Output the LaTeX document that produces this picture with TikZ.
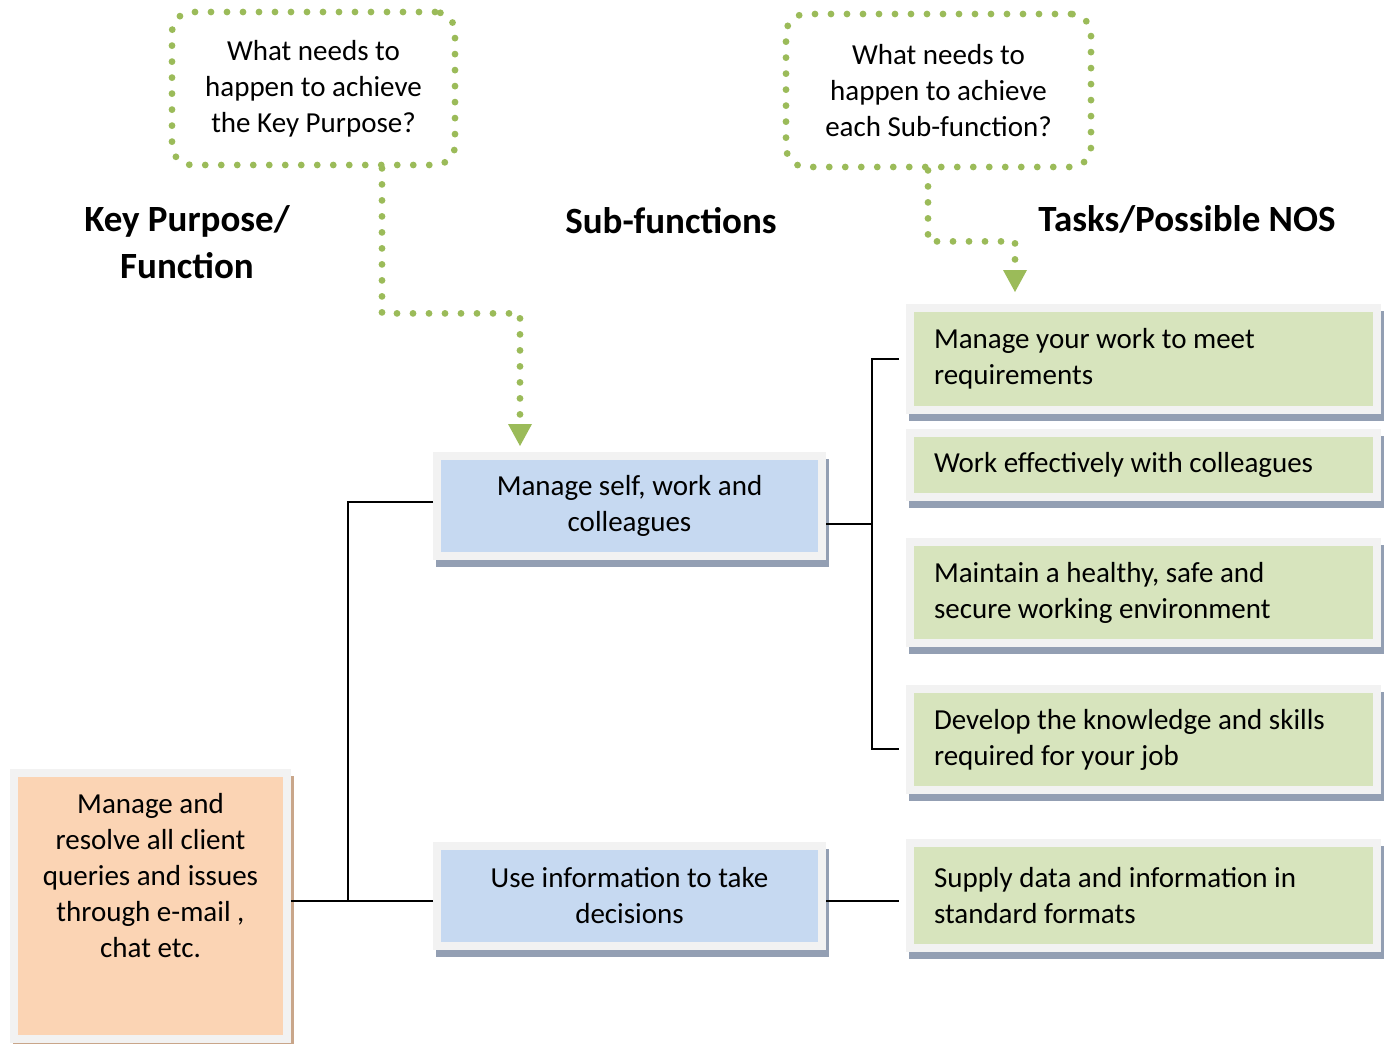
\documentclass[tikz,border=0pt]{standalone}
\usepackage{fontspec}
\setmainfont{Carlito}
\usetikzlibrary{arrows.meta,positioning}

\definecolor{peach}{HTML}{FBD4B4}
\definecolor{skyblue}{HTML}{C6D9F1}
\definecolor{sage}{HTML}{D7E4BD}
\definecolor{boxframe}{HTML}{F2F2F2}
\definecolor{shadeblue}{HTML}{939FB3}
\definecolor{shadetan}{HTML}{C9A68A}
\definecolor{leaf}{HTML}{9BBB59}

\tikzset{
  box/.style={draw=boxframe, line width=4pt, inner sep=0pt, align=center,
    font=\fontsize{14.5}{18}\selectfont,
    preaction={draw=#1, line width=4pt, transform canvas={shift={(1.5pt,-3.5pt)}}}},
  subbox/.style={box=shadeblue, fill=skyblue, minimum width=192.5pt, minimum height=50pt},
  taskbox/.style={box=shadeblue, fill=sage, text width=209.5pt, inner xsep=12pt,
    align=flush left, minimum height=#1},
  callout/.style={draw=leaf, line width=3.4pt, dash pattern=on 0pt off 8pt,
    line cap=round, rounded corners=10pt, align=center,
    font=\fontsize{14.5}{18}\selectfont},
  dotline/.style={draw=leaf, line width=3.4pt, dash pattern=on 0pt off 8pt,
    line cap=round, -{Triangle[width=12pt,length=11pt,line width=0pt]}, leaf},
  heading/.style={align=center, font=\bfseries\fontsize{18.5}{23.5}\selectfont},
  link/.style={line width=0.8pt}
}

\begin{document}
\begin{tikzpicture}[x=0.5pt,y=-0.5pt]
  \useasboundingbox (0,0) rectangle (1392,1044);

  % headings
  \node[heading] (hkey) at (187,242) {Key Purpose/\\Function};
  \node[heading] (hsub) at (671,221) {Sub-functions};
  \node[heading] (htask) at (1187,219) {Tasks/Possible NOS};

  % question callouts
  \node[callout, minimum width=141.5pt, minimum height=76.5pt] (qkey) at (313.5,88.5)
    {What needs to\\happen to achieve\\the Key Purpose?};
  \node[callout, minimum width=152.5pt, minimum height=76.5pt] (qsub) at (938.5,90.5)
    {What needs to\\happen to achieve\\each Sub-function?};

  % key purpose
  \node[box=shadetan, fill=peach, minimum width=136.5pt, minimum height=133pt] (kp) at (150.5,906) {};
  \node[align=center, font=\fontsize{14.5}{18}\selectfont] (kptext) at (150.5,876)
    {Manage and\\resolve all client\\queries and issues\\through e-mail ,\\chat etc.};

  % sub-functions
  \node[subbox] (sub1) at (629.5,506) {Manage self, work and\\colleagues};
  \node[subbox] (sub2) at (629.5,896) {Use information to take\\decisions};

  % tasks
  \node[taskbox=51pt] (t1) at (1143.5,359) {Manage your work to meet\\requirements};
  \node[taskbox=32pt] (t2) at (1143.5,465) {Work effectively with colleagues};
  \node[taskbox=50.5pt] (t3) at (1143.5,592.5) {Maintain a healthy, safe and\\secure working environment};
  \node[taskbox=50.5pt] (t4) at (1143.5,739.5) {Develop the knowledge and skills\\required for your job};
  \node[taskbox=52.5pt] (t5) at (1143.5,895.5) {Supply data and information in\\standard formats};

  % dotted arrows
  \coordinate (tip1) at (520,446);
  \coordinate (tip2) at (1015,292);
  \draw[dotline] ([xshift=34.25pt]qkey.south) -- ++(0,145) -| (tip1);
  \draw[dotline] ([xshift=-5.25pt]qsub.south) -- ++(0,71) -| (tip2);

  % connectors
  \coordinate (busl) at (348,0);
  \coordinate (busr) at (872,0);
  \draw[link] ([yshift=2pt]sub1.west) -| ([yshift=-2.5pt]busl |- sub2.west);
  \draw[link] ([yshift=-2.5pt]sub2.west) -- ([yshift=-2.5pt]kp.east |- sub2.west);
  \draw[link] ([yshift=-9pt]sub1.east) -- ([yshift=-9pt]busr |- sub1.east);
  \draw[link] ([xshift=-3.5pt]t1.west) -| ([yshift=-4.75pt]busr |- t4.west)
    -- ([xshift=-3.5pt,yshift=-4.75pt]t4.west);
  \draw[link] ([yshift=-2.5pt]sub2.east) -- ([xshift=-3.5pt,yshift=-2.5pt]sub2.east -| t5.west);
\end{tikzpicture}
\end{document}
